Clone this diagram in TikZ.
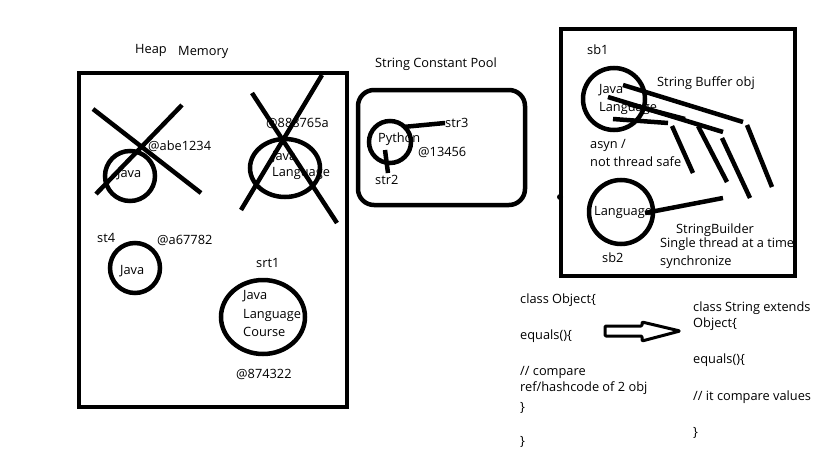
\documentclass[tikz,border=0pt]{standalone}
\usepackage{fontspec}
\setmainfont{Open Sans}
\usetikzlibrary{shapes.geometric}
\begin{document}
\begin{tikzpicture}[x=1pt,y=-1pt,
  lbl/.style={anchor=west,inner sep=0pt,font=\fontsize{12.8}{14}\selectfont},
  ring/.style={circle,draw,line width=4.5pt,inner sep=0pt},
  oval/.style={ellipse,draw,line width=4.5pt,inner sep=0pt},
  stroke/.style={line width=4.5pt},
  boxline/.style={line width=4.5pt}]
\useasboundingbox (0,0) rectangle (819,460);
\fill[white] (0,0) rectangle (819,460);

% ---------- Heap memory ----------
\node[lbl] (heap) at (135,50) {Heap};
\node[lbl] (mem) at (178,52) {Memory};
\draw[boxline] (79,73) rectangle (347,407);

\node[ring,minimum size=50pt] (c1) at (130,176) {};
\node[lbl] (c1t) at (117,174) {Java};
\node[lbl] (a1) at (148,146) {@abe1234};
\coordinate (x1a) at (93,109); \coordinate (x1b) at (201,193);
\coordinate (x1c) at (182,105); \coordinate (x1d) at (96,194);
\draw[stroke] (x1a) -- (x1b);
\draw[stroke] (x1c) -- (x1d);

\node[oval,minimum width=70pt,minimum height=58pt] (c2) at (285,168) {};
\node[lbl] (c2t1) at (272,157) {Java};
\node[lbl] (c2t2) at (272,173) {Language};
\node[lbl] (a2) at (266,123) {@888765a};
\coordinate (x2a) at (252,93); \coordinate (x2b) at (337,223);
\coordinate (x2c) at (322,75); \coordinate (x2d) at (241,210);
\draw[stroke] (x2a) -- (x2b);
\draw[stroke] (x2c) -- (x2d);

\node[lbl] (st4) at (97,238) {st4};
\node[lbl] (a3) at (157,240) {@a67782};
\node[ring,minimum size=50pt] (c3) at (135,268) {};
\node[lbl] (c3t) at (120,271) {Java};

\node[lbl] (srt1) at (256,263) {srt1};
\node[oval,minimum width=84pt,minimum height=74pt] (c4) at (263,317) {};
\node[lbl] (c4t1) at (243,296) {Java};
\node[lbl] (c4t2) at (243,315) {Language};
\node[lbl] (c4t3) at (243,332) {Course};
\node[lbl] (a4) at (236,374) {@874322};

% ---------- String constant pool ----------
\node[lbl] (scp) at (375,64) {String Constant Pool};
\draw[boxline,rounded corners=16pt] (358,90) rectangle (525,205);
\node[ring,minimum size=42pt] (py) at (390,142) {};
\node[lbl] (pyt) at (378,139) {Python};
\node[lbl] (str3) at (445,123) {str3};
\node[lbl] (a5) at (418,152) {@13456};
\node[lbl] (str2) at (375,180) {str2};
\coordinate (p3) at (403,127);
\coordinate (p2) at (385,150);
\draw[stroke] (p3) -- (str3.west);
\draw[stroke] (p2) -- (388,173);

% ---------- String buffer / builder ----------
\node[lbl] (sb1) at (587,50) {sb1};
\node[ring,minimum size=62pt] (sbc) at (614,99) {};
\node[lbl] (sbt1) at (599,90) {Java};
\node[lbl] (sbt2) at (599,108) {Language};
\node[lbl] (sbo) at (657,83) {String Buffer obj};
\node[lbl] (asyn) at (590,145) {asyn /};
\node[lbl] (nts) at (590,162) {not thread safe};

\draw[stroke] (623,85) -- (743,122);
\draw[stroke] (608,97) -- (723,132);
\draw[stroke] (628,104) -- (685,119);
\draw[stroke] (613,119) -- (668,123);
\draw[stroke] (672,126) -- (693,173);
\draw[stroke] (698,126) -- (727,182);
\draw[stroke] (722,138) -- (750,198);
\draw[stroke] (747,125) -- (772,187);

\node[ring,minimum size=64pt] (sbc2) at (621,212) {};
\node[lbl] (sbt3) at (594,212) {Language};
\coordinate (sbe) at (723,198);
\draw[stroke] (645,213) -- (sbe);
\node[lbl] (sbld) at (676,230) {StringBuilder};
\node[lbl] (single) at (660,244) {Single thread at a time};
\node[lbl] (sb2) at (602,258) {sb2};
\node[lbl] (sync) at (660,262) {synchronize};
\fill[white] (798,230) rectangle (819,255);
\draw[boxline] (561,29) rectangle (795,276);
\fill (560,197) circle (3pt);

% ---------- Object / String ----------
\node[lbl] (o1) at (520,300) {class Object\{};
\node[lbl] (o2) at (520,336) {equals()\{};
\node[lbl] (o3) at (520,372) {// compare};
\node[lbl] (o4) at (520,388) {ref/hashcode of 2 obj};
\node[lbl] (o5) at (520,408) {\}};
\node[lbl] (o6) at (520,442) {\}};

\node[lbl] (s1) at (693,308) {class String extends};
\node[lbl] (s2) at (693,324) {Object\{};
\node[lbl] (s3) at (693,360) {equals()\{};
\node[lbl] (s4) at (693,397) {// it compare values};
\node[lbl] (s5) at (693,433) {\}};

\draw[line width=3pt,line join=round,rounded corners=1pt]
  (605,326) -- (642,326) -- (642,322) -- (680,331) -- (642,341) -- (642,336) -- (605,336) -- cycle;
\end{tikzpicture}
\end{document}
